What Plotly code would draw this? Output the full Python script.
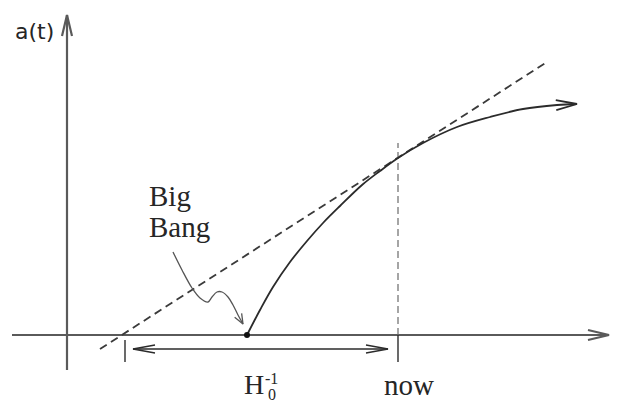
import numpy as np
import plotly.graph_objects as go

# scale factor curve a(t), diagram units (origin = where the axes cross)
curve_t = [180, 193, 206, 223, 240, 256, 273, 295, 313, 331, 356, 390, 423, 456, 490, 510]
curve_a = [0, 25, 48, 73, 94, 112, 129, 150, 164, 177, 192, 208, 218, 226, 230, 231]

# Hubble tangent (dashed)
tangent_t = [33, 480]
tangent_a = [-14, 273]

# axes
xaxis_t = [-55, 542]
yaxis_a = [-35, 320]

big_bang_t = 180
now_t = 331
now_top = 192
hubble_start = 58
arrow_row = -14
arrow_ends = [66, 321]

# "Big Bang" pointer squiggle
squig_t = [106, 115, 125, 133, 141, 145, 150, 155, 161, 166, 171, 176]
squig_a = [83, 65, 47, 37, 33, 38, 43, 43, 38, 30, 20, 11]

INK = "#2b2b2b"
AXIS = "#5a5a5a"
TXT = "#262626"
SERIF = "Liberation Serif"


def chevron(tip, prev, length=21, half=5):
    d = np.array(tip, float) - np.array(prev, float)
    d = d / np.hypot(*d)
    n = np.array([-d[1], d[0]])
    base = np.array(tip) - d * length
    a = base + n * half
    b = base - n * half
    return [a[0], tip[0], b[0]], [a[1], tip[1], b[1]]


def line(fig, xs, ys, color=INK, width=1.6, dash=None, shape="linear"):
    fig.add_trace(go.Scatter(x=xs, y=ys, mode="lines", line_shape=shape,
                             line=dict(color=color, width=width, dash=dash),
                             hoverinfo="skip"))


fig = go.Figure()

# axes with open arrow heads
line(fig, xaxis_t, [0, 0], AXIS, 2.2)
line(fig, *chevron((xaxis_t[1], 0), (0, 0)), AXIS, 2.2)
line(fig, [0, 0], yaxis_a, AXIS, 2.2)
line(fig, *chevron((0, yaxis_a[1]), (0, 0)), AXIS, 2.2)

# dashed tangent and "now" marker
line(fig, tangent_t, tangent_a, "#3a3a3a", 1.8, "8px,5px")
line(fig, [now_t, now_t], [0, now_top], "#6a6a6a", 1.2, "7px,4px")
line(fig, [now_t, now_t], [0, -27], INK, 1.4)
line(fig, [hubble_start, hubble_start], [-5, -27], INK, 1.4)

# H0^-1 double arrow
line(fig, arrow_ends, [arrow_row, arrow_row], INK, 1.4)
line(fig, *chevron((arrow_ends[0], arrow_row), (arrow_ends[1], arrow_row), 22, 4), INK, 1.4)
line(fig, *chevron((arrow_ends[1], arrow_row), (arrow_ends[0], arrow_row), 22, 4), INK, 1.4)

# a(t)
line(fig, curve_t, curve_a, INK, 1.8, shape="spline")
line(fig, *chevron((curve_t[-1], curve_a[-1]), (curve_t[-2], curve_a[-2]), 21, 5), INK, 1.8)

# Big Bang squiggle
line(fig, squig_t, squig_a, "#555555", 1.3, shape="spline")
line(fig, *chevron((squig_t[-1], squig_a[-1]), (squig_t[-2], squig_a[-2]), 10, 4), "#555555", 1.3)

fig.add_trace(go.Scatter(x=[big_bang_t], y=[0], mode="markers",
                         marker=dict(color="#111111", size=6), hoverinfo="skip"))

labels = [
    dict(x=-33, y=304, text="a(t)", font=dict(family="DejaVu Sans", size=22, color=TXT)),
    dict(x=80, y=139, text="Big", xanchor="left", font=dict(family=SERIF, size=29, color=TXT)),
    dict(x=80, y=108, text="Bang", xanchor="left", font=dict(family=SERIF, size=29, color=TXT)),
    dict(x=315, y=-50, text="now", xanchor="left", font=dict(family=SERIF, size=29, color=TXT)),
    dict(x=175, y=-49, text="H", xanchor="left", font=dict(family=SERIF, size=28, color=TXT)),
    dict(x=204, y=-43, text="-1", font=dict(family=SERIF, size=16, color=TXT)),
    dict(x=205, y=-59, text="0", font=dict(family=SERIF, size=16, color=TXT)),
]
for lab in labels:
    fig.add_annotation(showarrow=False, xref="x", yref="y", **lab)

fig.update_layout(width=637, height=403, margin=dict(l=0, r=0, t=0, b=0),
                  paper_bgcolor="white", plot_bgcolor="white", showlegend=False)
fig.update_xaxes(range=[-67, 570], visible=False)
fig.update_yaxes(range=[-68, 335], visible=False)

fig.write_html("out.html", config={"displayModeBar": False},
               post_script="document.body.style.margin = '0';")
